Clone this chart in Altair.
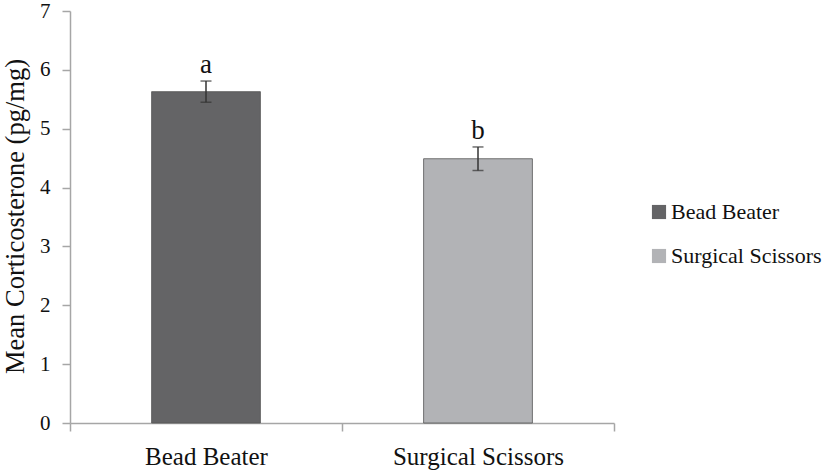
import altair as alt
import pandas as pd

methods = ["Bead Beater", "Surgical Scissors"]
means = [5.63, 4.49]
errors = [0.18, 0.20]
letters = ["a", "b"]
colors = ["#646466", "#b2b3b6"]

df = pd.DataFrame({
    "method": methods,
    "mean": means,
    "err": errors,
    "letter": letters,
})
df["lower"] = df["mean"] - df["err"]
df["upper"] = df["mean"] + df["err"]

FONT = "Liberation Serif"
AXC = "#a6a6a6"
TITLE = "Mean Corticosterone (pg/mg)"

x_enc = alt.X(
    "method:N",
    sort=methods,
    title=None,
    scale=alt.Scale(paddingInner=0, paddingOuter=0),
    axis=alt.Axis(tickBand="extent", labelAngle=0),
)

y_scale = alt.Scale(domain=[0, 7], nice=False)
y_axis = alt.Axis(values=[0, 1, 2, 3, 4, 5, 6, 7], format="d", grid=False,
                  labelFont=FONT, labelFontSize=21)

base = alt.Chart(df)

bars = base.mark_bar(width=alt.RelativeBandSize(0.4), stroke="#555", strokeWidth=0.8).encode(
    x=x_enc,
    y=alt.Y("mean:Q", scale=y_scale, title=TITLE, axis=y_axis),
    color=alt.Color(
        "method:N", sort=methods, title=None,
        scale=alt.Scale(domain=methods, range=colors),
        legend=alt.Legend(
            orient="none", legendX=578, legendY=190, symbolType="square", symbolSize=200,
            symbolStrokeWidth=0, labelFont=FONT, labelFontSize=22, labelColor="#111",
            rowPadding=22, labelOffset=1, labelLimit=300,
        ),
    ),
)

rule = base.mark_rule(color="#333", strokeWidth=1.5).encode(
    x=alt.X("method:N", sort=methods),
    y=alt.Y("lower:Q", scale=y_scale, title=TITLE, axis=y_axis),
    y2="upper:Q",
)
cap_lo = base.mark_tick(color="#333", size=11, thickness=1.5).encode(
    x=alt.X("method:N", sort=methods),
    y=alt.Y("lower:Q", scale=y_scale, title=TITLE, axis=y_axis),
)
cap_hi = base.mark_tick(color="#333", size=11, thickness=1.5).encode(
    x=alt.X("method:N", sort=methods),
    y=alt.Y("upper:Q", scale=y_scale, title=TITLE, axis=y_axis),
)
labels = base.mark_text(font=FONT, fontSize=27, color="#111", baseline="alphabetic", dy=-8).encode(
    x=alt.X("method:N", sort=methods),
    y=alt.Y("upper:Q", scale=y_scale, title=TITLE, axis=y_axis),
    text="letter:N",
)

chart = alt.layer(bars, rule, cap_lo, cap_hi, labels).properties(
    width=544, height=412,
    autosize=alt.AutoSizeParams(type="none"),
    padding={"left": 70, "top": 11, "right": 213, "bottom": 47},
    background="white",
).configure(
    font=FONT
).configure_view(
    stroke=None
).configure_axis(
    labelFont=FONT, labelColor="#111", domainColor=AXC, tickColor=AXC,
    tickSize=8, domainWidth=1.5, tickWidth=1.5,
    titleFont=FONT, titleFontWeight="normal", titleColor="#111",
).configure_axisX(
    labelFontSize=25, labelBaseline="alphabetic", labelPadding=33,
).configure_axisY(
    labelFont=FONT, labelFontSize=21, labelPadding=12, titleFontSize=26.5,
    titleX=-55, titleY=205, titleAngle=-90, titleBaseline="middle", titleAlign="center",
)

chart.save("out.html", embed_options={"renderer": "svg", "actions": False})
